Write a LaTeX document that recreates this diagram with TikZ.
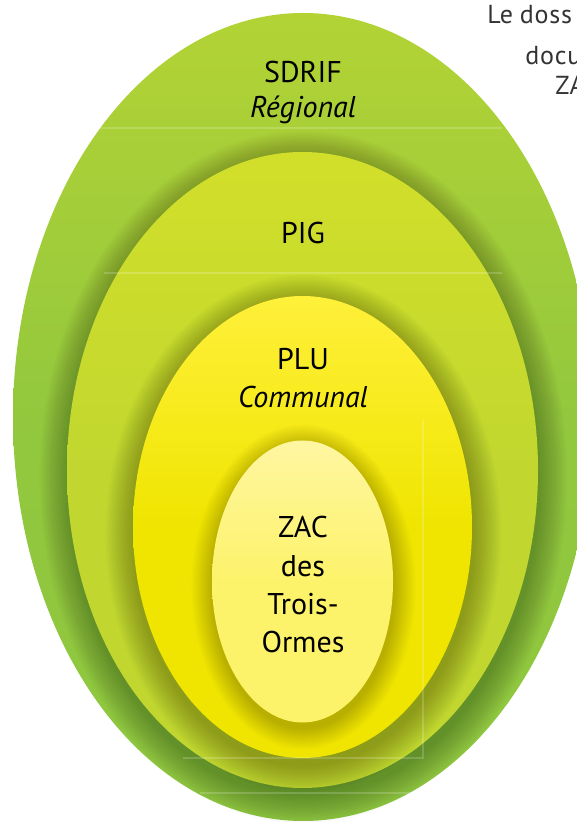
\documentclass[tikz,border=0pt]{standalone}
\usepackage{fontspec}
\setmainfont{PT Sans}
\newfontfamily\sidefont[LetterSpace=3]{PT Sans}
\begin{document}
\begin{tikzpicture}[x=0.75pt,y=0.75pt,
  lbl/.style={font=\fontsize{22.5}{26}\selectfont, text=black, anchor=base, inner sep=0pt},
  lbli/.style={lbl, font=\fontsize{22.5}{26}\selectfont\itshape},
  side/.style={font=\sidefont\fontsize{19.5}{21}\selectfont, text=black!80, anchor=base west, inner sep=0pt},
  faint/.style={draw=white, opacity=0.18, line width=0.8pt}
]
\definecolor{gA}{HTML}{B3D335}
\definecolor{gB}{HTML}{8DC63F}
\definecolor{pA}{HTML}{D2DF2A}
\definecolor{pB}{HTML}{C1D72F}
\definecolor{yA}{HTML}{FFF03A}
\definecolor{yB}{HTML}{EFE500}
\definecolor{zA}{HTML}{FFF6A2}
\definecolor{zB}{HTML}{FDF36A}
\useasboundingbox (0,0) rectangle (577,822);
\clip (0,0) rectangle (577,822);
\fill[white] (0,0) rectangle (577,822);
% outer ellipse
\shade[top color=gA, bottom color=gB, middle color=gB!85!gA] (303,405) ellipse [x radius=290, y radius=404];
% shadow of PIG
\foreach \i in {1,...,22} {
  \fill[black, opacity=0.011] (303.5,345) ellipse [x radius={235.5+\i*1.3}, y radius={318+\i*1.3}];
}
\shade[top color=pA, bottom color=pB, middle color=pB] (302.5,352) ellipse [x radius=235.5, y radius=318];
% shadow of PLU
\foreach \i in {1,...,22} {
  \fill[black, opacity=0.011] (303.5,288) ellipse [x radius={169.5+\i*1.3}, y radius={231+\i*1.3}];
}
\shade[top color=yA, bottom color=yB, middle color=yB] (302.5,295) ellipse [x radius=169.5, y radius=231];
% shadow of ZAC
\foreach \i in {1,...,18} {
  \fill[black, opacity=0.011] (303.5,235) ellipse [x radius={90.5+\i*1.2}, y radius={141+\i*1.2}];
}
\shade[top color=zA, bottom color=zB, middle color=zB] (302.5,240.5) ellipse [x radius=90.5, y radius=141];
% faint artefact lines
\draw[faint] (100,694) -- (502,694);
\draw[faint] (104,549) -- (502,549);
\draw[faint] (183,64) -- (423,64) -- (423,402);
\draw[faint] (200,29) -- (500,29);
% labels
\node[lbl] (sdrif) at (303,739) {SDRIF};
\node[lbli] (reg) at (303,704) {Régional};
\node[lbl] (pig) at (303,578) {PIG};
\node[lbl] (plu) at (303,452) {PLU};
\node[lbli] (com) at (303,414) {Communal};
\node[lbl] (zac1) at (303,284) {ZAC};
\node[lbl] (zac2) at (303,245) {des};
\node[lbl] (zac3) at (303,207) {Trois-};
\node[lbl] (zac4) at (303,169) {Ormes};
% side text (cut off by the picture's edge, as in the reference)
\node[side] (t1) at (487,798) {Le\hspace{5pt}doss};
\node[side] (t2) at (525,757) {docu};
\node[side] (t3) at (555,727) {ZA};
\end{tikzpicture}
\end{document}
